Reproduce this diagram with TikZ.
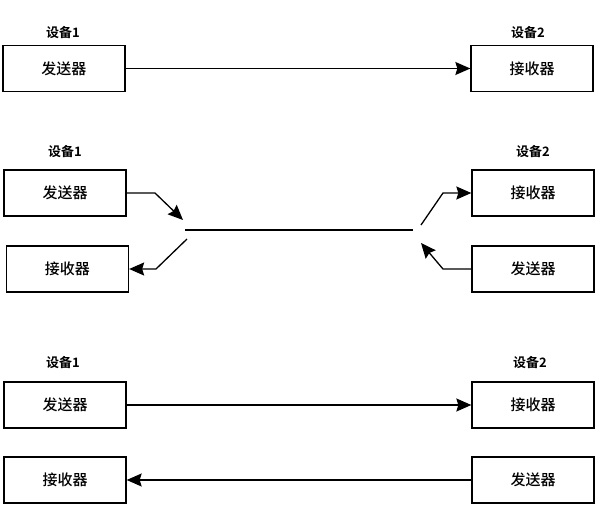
\documentclass[tikz,border=0pt]{standalone}
\usepackage{fontspec}
\newfontfamily\cjk{Noto Sans CJK SC Medium}
\newfontfamily\cjkb{Noto Sans CJK SC Bold}
\usetikzlibrary{arrows.meta}
\begin{document}
\begin{tikzpicture}[x=1pt,y=-1pt,
  box/.style={draw,line width=1.3pt,minimum width=122pt,minimum height=46pt,inner sep=0pt,font=\cjk\fontsize{15}{17}\selectfont},
  dev/.style={font=\cjkb\fontsize{13}{15}\selectfont,inner sep=0pt},
  conn/.style={line width=1.3pt,-{Stealth[length=15pt,width=13pt,inset=2pt]}},
  wire/.style={line width=1.3pt}]
\useasboundingbox (0,0) rectangle (598,506);
% row 1
\node[box] (s1) at (64,68.5) {发送器};
\node[box] (r1) at (532,68.5) {接收器};
\node[dev] (d1a) at (63,33) {设备1};
\node[dev] (d2a) at (528,33) {设备2};
\draw[conn] (s1.east) -- (r1.west);
% row 2
\node[box] (s2) at (65,193) {发送器};
\node[box] (r2) at (67.5,269) {接收器};
\node[box] (r2b) at (533,193) {接收器};
\node[box] (s2b) at (533,269) {发送器};
\node[dev] (d1b) at (65,152) {设备1};
\node[dev] (d2b) at (533,152) {设备2};
\coordinate (ma) at (185,230);
\coordinate (mb) at (413,230);
\draw[wire] (ma) -- (mb);
\coordinate (ta) at (183,220);
\coordinate (tb) at (187,239);
\coordinate (tc) at (421,225);
\coordinate (td) at (421,243);
\draw[conn] (s2.east) -- (155,193) -- (ta);
\draw[conn] (tb) -- (156,269) -- (r2.east);
\draw[conn] (tc) -- (443,193) -- (r2b.west);
\draw[conn] (s2b.west) -- (443,269) -- (td);
% row 3
\node[box] (s3) at (65,405) {发送器};
\node[box] (r3) at (65,480) {接收器};
\node[box] (r3b) at (533,405) {接收器};
\node[box] (s3b) at (533,480) {发送器};
\node[dev] (d1c) at (63,363) {设备1};
\node[dev] (d2c) at (530,363) {设备2};
\draw[conn] (s3.east) -- (r3b.west);
\draw[conn] (s3b.west) -- (r3.east);
\end{tikzpicture}
\end{document}
